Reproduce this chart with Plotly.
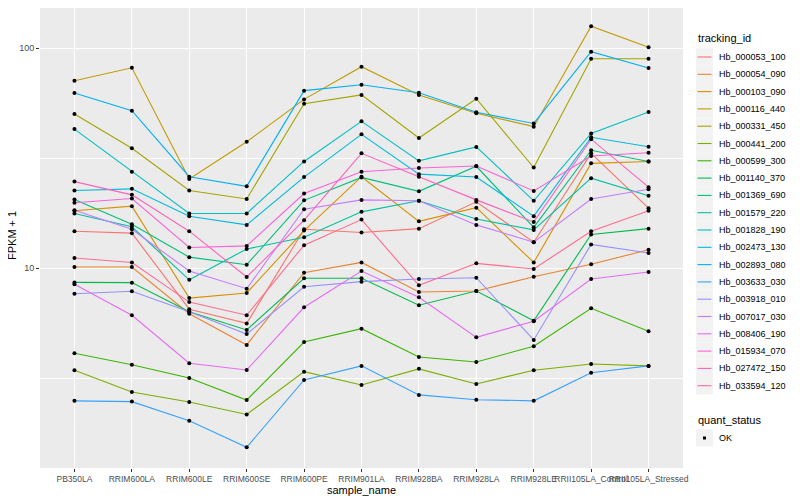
import plotly.graph_objects as go

samples = ["PB350LA", "RRIM600LA", "RRIM600LE", "RRIM600SE", "RRIM600PE", "RRIM901LA",
           "RRIM928BA", "RRIM928LA", "RRIM928LE", "RRII105LA_Control", "RRII105LA_Stressed"]

Hb_000053_100 = [14.7, 14.4, 6.5, 5.6, 15.0, 14.5, 15.1, 20.0, 13.1, 33.2, 18.7]
Hb_000054_090 = [10.1, 10.1, 6.2, 4.47, 9.52, 10.6, 7.78, 7.86, 9.13, 10.4, 12.1]
Hb_000103_090 = [18.2, 19.1, 7.3, 7.7, 14.8, 26.0, 16.3, 18.8, 10.6, 29.9, 30.5]
Hb_000116_440 = [71.0, 81.3, 25.4, 37.5, 58.4, 82.2, 61.2, 50.5, 43.9, 125.5, 100.7]
Hb_000331_450 = [50.1, 35.0, 22.5, 20.6, 55.8, 61.2, 39.0, 58.8, 28.6, 89.4, 89.4]
Hb_000441_200 = [3.43, 2.73, 2.46, 2.16, 3.38, 2.94, 3.48, 2.97, 3.43, 3.66, 3.59]
Hb_000599_300 = [4.1, 3.63, 3.16, 2.51, 4.61, 5.3, 3.94, 3.74, 4.41, 6.56, 5.16]
Hb_001140_370 = [8.6, 8.58, 6.33, 5.23, 8.98, 8.98, 6.77, 7.86, 5.76, 14.2, 15.1]
Hb_001369_690 = [20.5, 15.8, 11.2, 10.35, 20.3, 25.8, 22.3, 29.0, 15.3, 34.3, 30.5]
Hb_001579_220 = [17.7, 15.4, 8.84, 12.2, 13.8, 18.0, 20.2, 16.7, 14.9, 25.6, 21.3]
Hb_001828_190 = [42.8, 27.4, 17.7, 17.7, 30.5, 46.4, 30.7, 35.5, 20.2, 40.9, 51.2]
Hb_002473_130 = [22.5, 22.9, 17.2, 15.7, 25.9, 40.5, 26.7, 25.9, 17.2, 39.3, 35.6]
Hb_002893_080 = [62.4, 51.9, 26.0, 23.5, 64.0, 68.1, 62.6, 51.0, 45.4, 96.2, 81.1]
Hb_003633_030 = [2.49, 2.47, 2.02, 1.53, 3.10, 3.59, 2.65, 2.52, 2.49, 3.34, 3.59]
Hb_003918_010 = [7.64, 7.84, 6.33, 5.01, 8.22, 8.67, 8.91, 9.03, 4.71, 12.8, 11.7]
Hb_007017_030 = [18.3, 15.0, 9.69, 8.05, 18.5, 20.4, 20.2, 15.7, 13.1, 20.6, 22.8]
Hb_008406_190 = [8.43, 6.1, 3.69, 3.44, 6.63, 9.69, 7.36, 4.84, 5.73, 8.91, 9.59]
Hb_015934_070 = [19.8, 20.7, 12.4, 12.6, 21.8, 27.4, 28.5, 29.1, 22.4, 32.3, 33.4]
Hb_027472_150 = [24.7, 21.5, 14.7, 9.1, 16.5, 33.2, 26.0, 20.4, 16.2, 38.5, 23.3]
Hb_033594_120 = [11.1, 10.6, 7.0, 6.1, 12.7, 16.6, 8.34, 10.5, 9.9, 14.7, 18.2]

tracking_ids = ["Hb_000053_100", "Hb_000054_090", "Hb_000103_090", "Hb_000116_440", "Hb_000331_450",
                "Hb_000441_200", "Hb_000599_300", "Hb_001140_370", "Hb_001369_690", "Hb_001579_220",
                "Hb_001828_190", "Hb_002473_130", "Hb_002893_080", "Hb_003633_030", "Hb_003918_010",
                "Hb_007017_030", "Hb_008406_190", "Hb_015934_070", "Hb_027472_150", "Hb_033594_120"]
series = [Hb_000053_100, Hb_000054_090, Hb_000103_090, Hb_000116_440, Hb_000331_450,
          Hb_000441_200, Hb_000599_300, Hb_001140_370, Hb_001369_690, Hb_001579_220,
          Hb_001828_190, Hb_002473_130, Hb_002893_080, Hb_003633_030, Hb_003918_010,
          Hb_007017_030, Hb_008406_190, Hb_015934_070, Hb_027472_150, Hb_033594_120]
colors = ["#F8766D", "#EA8331", "#D89000", "#C09B00", "#A3A500", "#7CAE00", "#39B600", "#00BB4E",
          "#00BF7D", "#00C1A3", "#00BFC4", "#00BAE0", "#00B0F6", "#35A2FF", "#9590FF", "#C77CFF",
          "#E76BF3", "#FA62DB", "#FF62BC", "#FF6C91"]
quant_status = ["OK"]

FONT = "Liberation Sans, Arial, sans-serif"
# the page shows the figure with an 8px body margin: size the figure so it fills the window
OFF = 8
W, H = 800 - OFF, 500 - OFF
L, R, T, B = 40 - OFF, 117, 0, 32
PW, PH = W - L - R, H - T - B


def px(x):
    """window pixel x -> paper x"""
    return (x - OFF - L) / PW


def py(y):
    """window pixel y -> paper y"""
    return (H - B - (y - OFF)) / PH


fig = go.Figure()
for name, vals, col in zip(tracking_ids, series, colors):
    fig.add_trace(go.Scatter(x=samples, y=vals, mode="lines", name=name,
                             line=dict(color=col, width=1.1), showlegend=False))

all_x = [s for vals in series for s in samples]
all_y = [v for vals in series for v in vals]
fig.add_trace(go.Scatter(x=all_x, y=all_y, mode="markers", name=quant_status[0],
                         marker=dict(color="black", size=4, symbol="circle"),
                         showlegend=False))

# legend (ggplot style) built from the tracking_ids / colors lists
shapes, annots = [], []
annots.append(dict(x=px(696), y=py(38), xref="paper", yref="paper", text="tracking_id",
                   showarrow=False, xanchor="left", yanchor="middle",
                   font=dict(size=11, color="black", family=FONT)))
step = 17.3
for i, (name, col) in enumerate(zip(tracking_ids, colors)):
    cy = 57 + i * step
    shapes.append(dict(type="rect", xref="paper", yref="paper", x0=px(696), x1=px(713),
                       y0=py(cy - 8.6), y1=py(cy + 8.6), fillcolor="#F2F2F2", line=dict(width=0),
                       layer="below"))
    shapes.append(dict(type="line", xref="paper", yref="paper", x0=px(697.5), x1=px(711.5),
                       y0=py(cy), y1=py(cy), line=dict(color=col, width=1.1)))
    annots.append(dict(x=px(717), y=py(cy), xref="paper", yref="paper", text=name,
                       showarrow=False, xanchor="left", yanchor="middle",
                       font=dict(size=9, color="black", family=FONT)))
annots.append(dict(x=px(696), y=py(420), xref="paper", yref="paper", text="quant_status",
                   showarrow=False, xanchor="left", yanchor="middle",
                   font=dict(size=11, color="black", family=FONT)))
shapes.append(dict(type="rect", xref="paper", yref="paper", x0=px(696), x1=px(713),
                   y0=py(438 - 8.6), y1=py(438 + 8.6), fillcolor="#F2F2F2", line=dict(width=0),
                   layer="below"))
shapes.append(dict(type="rect", xref="paper", yref="paper", x0=px(703), x1=px(706),
                   y0=py(439.5), y1=py(436.5), fillcolor="black", line=dict(width=0)))
annots.append(dict(x=px(717), y=py(438), xref="paper", yref="paper", text=quant_status[0],
                   showarrow=False, xanchor="left", yanchor="middle",
                   font=dict(size=9, color="black", family=FONT)))
annots.append(dict(x=px(361), y=py(490), xref="paper", yref="paper", text="sample_name",
                   showarrow=False, xanchor="center", yanchor="middle",
                   font=dict(size=11, color="black", family=FONT)))
annots.append(dict(x=px(12), y=py(236), xref="paper", yref="paper", text="FPKM + 1",
                   showarrow=False, xanchor="center", yanchor="middle", textangle=-90,
                   font=dict(size=11, color="black", family=FONT)))

fig.update_layout(
    width=W, height=H,
    margin=dict(l=L, r=R, t=T, b=B, autoexpand=False),
    paper_bgcolor="white", plot_bgcolor="#EBEBEB",
    font=dict(family=FONT, size=9, color="#4D4D4D"),
    showlegend=False, shapes=shapes, annotations=annots,
)
fig.update_xaxes(type="category", categoryorder="array", categoryarray=samples,
                 range=[-0.6, 10.6], showgrid=True, gridcolor="white", gridwidth=1.1,
                 zeroline=False, ticks="outside", ticklen=3, tickcolor="#333333",
                 tickangle=0, automargin=False, tickfont=dict(size=8.5, color="#4D4D4D"))
fig.update_yaxes(type="log", range=[1 - 200 / 220, 1 + 260 / 220],
                 tickvals=[10, 100], ticktext=["10", "100"],
                 showgrid=True, gridcolor="white", gridwidth=1.1, zeroline=False,
                 ticks="outside", ticklen=3, tickcolor="#333333", automargin=False,
                 tickfont=dict(size=9, color="#4D4D4D"),
                 minor=dict(tickvals=[10 ** 0.5, 10 ** 1.5], showgrid=True,
                            gridcolor="white", gridwidth=0.5, ticks=""))

fig.write_html("out.html")
